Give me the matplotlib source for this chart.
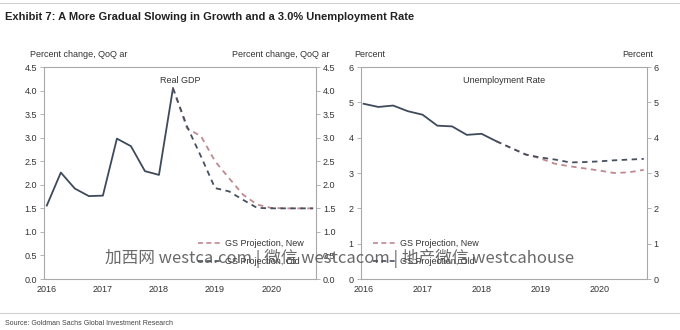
import matplotlib.pyplot as plt
from matplotlib.lines import Line2D

# quarterly positions: 2016Q1 .. 2020Q4
quarters = [2016 + i * 0.25 for i in range(20)]

# Real GDP, percent change QoQ ar (actual through 2018Q2)
gdp_actual = [1.56, 2.26, 1.92, 1.76, 1.77, 2.98, 2.82, 2.29, 2.21, 4.05]
gdp_new = [4.05, 3.20, 3.03, 2.50, 2.14, 1.79, 1.58, 1.51, 1.50, 1.50, 1.50]
gdp_old = [4.05, 3.24, 2.60, 1.93, 1.86, 1.68, 1.51, 1.50, 1.50, 1.50, 1.50]

# Unemployment rate, percent
ur_actual = [4.96, 4.87, 4.91, 4.75, 4.65, 4.34, 4.32, 4.08, 4.11, 3.90]
ur_new = [3.90, 3.71, 3.53, 3.41, 3.26, 3.19, 3.13, 3.07, 3.00, 3.02, 3.09]
ur_old = [3.90, 3.71, 3.52, 3.44, 3.38, 3.30, 3.31, 3.33, 3.36, 3.38, 3.40]

year_ticks = [2016, 2017, 2018, 2019, 2020]
gdp_ticks = [0.0, 0.5, 1.0, 1.5, 2.0, 2.5, 3.0, 3.5, 4.0, 4.5]
ur_ticks = [0, 1, 2, 3, 4, 5, 6]

SOLID = '#3e4a5c'
OLD = '#46505f'
NEW = '#c08890'
GRID = '#a8a8a8'
TXT = '#333333'

plt.rcParams['font.family'] = ['Liberation Sans', 'DejaVu Sans']

fig = plt.figure(figsize=(6.8, 3.3), dpi=100)

ax1 = fig.add_axes([0.0647, 0.1545, 0.40, 0.6424])
ax2 = fig.add_axes([0.5304, 0.1545, 0.4206, 0.6424])


def style(ax, ticks, fmt, ylabel, title, label_off):
    ax.set_xlim(2015.95, 2020.8)
    ax.set_ylim(ticks[0], ticks[-1])
    ax.set_xticks(year_ticks)
    ax.set_xticklabels([str(y) for y in year_ticks])
    ax.set_yticks(ticks)
    ax.set_yticklabels([fmt.format(t) for t in ticks])
    ax.tick_params(axis='both', labelsize=6.5, colors=GRID, labelcolor=TXT,
                   length=3, width=0.6, pad=2)
    ax.tick_params(axis='x', length=0, pad=4)
    ax.tick_params(axis='y', right=True, labelright=True)
    for sp in ax.spines.values():
        sp.set_color(GRID)
        sp.set_linewidth(0.8)
    ax.text(-label_off, 1.04, ylabel, transform=ax.transAxes, fontsize=6.5,
            color=TXT, ha='left', va='bottom')
    ax.text(1 + label_off, 1.04, ylabel, transform=ax.transAxes, fontsize=6.5,
            color=TXT, ha='right', va='bottom')
    ax.text(0.5, 0.96, title, transform=ax.transAxes, fontsize=6.5,
            color=TXT, ha='center', va='top')


def draw(ax, actual, new, old):
    n = len(actual)
    ax.plot(quarters[:n], actual, color=SOLID, lw=1.3)
    ax.plot(quarters[n - 1:], new, color=NEW, lw=1.3, ls=(0, (3, 2.5)))
    ax.plot(quarters[n - 1:], old, color=OLD, lw=1.3, ls=(0, (3, 2.5)))


draw(ax1, gdp_actual, gdp_new, gdp_old)
draw(ax2, ur_actual, ur_new, ur_old)
style(ax1, gdp_ticks, '{:.1f}', 'Percent change, QoQ ar', 'Real GDP', 0.051)
style(ax2, ur_ticks, '{:d}', 'Percent', 'Unemployment Rate', 0.024)

handles = [Line2D([], [], color=NEW, lw=1.2, ls=(0, (3, 2))),
           Line2D([], [], color=OLD, lw=1.2, ls=(0, (3, 2)))]
labels = ['GS Projection, New', 'GS Projection, Old']
for ax, loc in ((ax1, 'lower right'), (ax2, 'lower left')):
    ax.legend(handles, labels, loc=loc, frameon=False, fontsize=6.5,
              handlelength=2.6, handletextpad=0.4, labelspacing=1.0,
              borderaxespad=1.0, labelcolor=TXT)

# header and footer
fig.add_artist(Line2D([0.0, 1.0], [0.99, 0.99], color='#d0d0d0', lw=0.8))
fig.text(0.008, 0.948, 'Exhibit 7: A More Gradual Slowing in Growth and a 3.0% Unemployment Rate',
         fontsize=8, fontweight='bold', color='#222222', ha='left', va='center',
         family=['Liberation Sans Narrow', 'Liberation Sans'])
fig.add_artist(Line2D([0.0, 1.0], [0.052, 0.052], color='#d0d0d0', lw=0.8))
fig.text(0.008, 0.02, 'Source: Goldman Sachs Global Investment Research',
         fontsize=5, color='#444444', ha='left', va='center',
         family=['Liberation Sans Narrow', 'Liberation Sans'])

# overlay text across both panels
fig.text(0.5, 0.218, '加西网 westca.com | 微信 westcacom | 地产微信 westcahouse',
         fontsize=12, color='#505050', alpha=0.85, ha='center', va='center',
         family=['Noto Sans CJK SC', 'DejaVu Sans'])

fig.savefig('out.png', dpi=100, facecolor='white')
